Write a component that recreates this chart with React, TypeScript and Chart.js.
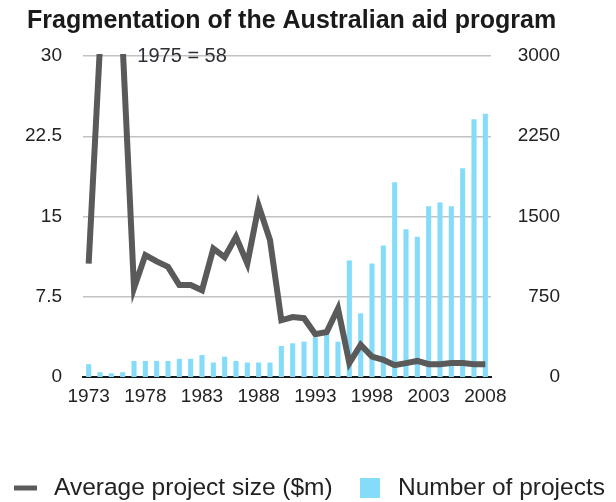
import React, { useEffect, useRef } from 'react';
import { Chart, registerables } from 'chart.js';

Chart.register(...registerables);

const years = [
  '1973', '1974', '1975', '1976', '1977', '1978', '1979', '1980', '1981', '1982',
  '1983', '1984', '1985', '1986', '1987', '1988', '1989', '1990', '1991', '1992',
  '1993', '1994', '1995', '1996', '1997', '1998', '1999', '2000', '2001', '2002',
  '2003', '2004', '2005', '2006', '2007', '2008',
];

const shownYearLabels = ['1973', '1978', '1983', '1988', '1993', '1998', '2003', '2008'];

const avgProjectSize = [
  10.6, 31, 58, 31, 8.3, 11.4, 10.8, 10.3, 8.6, 8.6,
  8.1, 12.0, 11.2, 13.1, 10.6, 16.0, 12.8, 5.3, 5.6, 5.5,
  4.0, 4.2, 6.4, 1.3, 3.0, 1.9, 1.6, 1.1, 1.3, 1.5,
  1.2, 1.2, 1.3, 1.3, 1.2, 1.2,
];

const numberOfProjects = [
  120, 45, 35, 45, 150, 150, 150, 150, 170, 170,
  205, 135, 190, 150, 135, 135, 135, 290, 315, 330,
  370, 400, 330, 1090, 595, 1060, 1230, 1820, 1380, 1310,
  1595, 1630, 1595, 1950, 2410, 2460,
];

const leftTicks = [0, 7.5, 15, 22.5, 30];
const rightTicks = [0, 750, 1500, 2250, 3000];

const titleText = 'Fragmentation of the Australian aid program';
const annotationText = '1975 = 58';
const lineLabel = 'Average project size ($m)';
const barLabel = 'Number of projects';

const FONT = '"Liberation Sans", Arial, Helvetica, sans-serif';
const LINE_COLOR = '#5a5a5a';
const BAR_COLOR = '#84dcfa';
const TEXT_COLOR = '#222222';

const decorPlugin = {
  id: 'decor',
  afterDraw(chart: any) {
    const ctx = chart.ctx;
    const x = chart.scales.x;
    const y = chart.scales.y;
    ctx.save();
    // title
    ctx.fillStyle = '#1a1a1a';
    ctx.font = `bold 25px ${FONT}`;
    ctx.textAlign = 'left';
    ctx.textBaseline = 'middle';
    ctx.fillText(titleText, 27, 21);
    // annotation
    ctx.fillStyle = '#2e2e36';
    ctx.font = `20px ${FONT}`;
    ctx.fillText(annotationText, x.getPixelForValue(2) + 26, y.getPixelForValue(30));
    // legend
    const ly = 488;
    ctx.strokeStyle = LINE_COLOR;
    ctx.lineWidth = 5;
    ctx.beginPath();
    ctx.moveTo(14, ly);
    ctx.lineTo(37, ly);
    ctx.stroke();
    ctx.fillStyle = TEXT_COLOR;
    ctx.font = `24.5px ${FONT}`;
    ctx.fillText(lineLabel, 54, ly);
    ctx.fillStyle = BAR_COLOR;
    ctx.fillRect(360, ly - 10, 20, 20);
    ctx.fillStyle = TEXT_COLOR;
    ctx.fillText(barLabel, 398, ly);
    ctx.restore();
  },
};

export default function App() {
  const ref = useRef<HTMLCanvasElement | null>(null);

  useEffect(() => {
    if (!ref.current) return;
    const tickFont = { family: FONT, size: 19 };
    const chart = new Chart(ref.current, {
      type: 'bar',
      data: {
        labels: years,
        datasets: [
          {
            type: 'line',
            label: lineLabel,
            data: avgProjectSize,
            yAxisID: 'y',
            borderColor: LINE_COLOR,
            backgroundColor: LINE_COLOR,
            borderWidth: 6,
            pointRadius: 0,
            tension: 0,
            borderJoinStyle: 'miter',
            clip: { left: 5, right: 5, top: 2, bottom: 5 },
            order: 0,
          } as any,
          {
            type: 'bar',
            label: barLabel,
            data: numberOfProjects,
            yAxisID: 'y1',
            backgroundColor: BAR_COLOR,
            borderWidth: 0,
            barPercentage: 0.45,
            categoryPercentage: 1,
            order: 1,
          },
        ],
      },
      options: {
        responsive: false,
        animation: false,
        layout: { padding: { left: 0, right: 56, top: 56, bottom: 90 } },
        plugins: {
          legend: { display: false },
          title: { display: false },
          tooltip: { enabled: false },
        },
        scales: {
          x: {
            offset: true,
            grid: { display: false, drawTicks: false },
            border: { display: true, color: '#1a1a1a', width: 2 },
            ticks: {
              autoSkip: false,
              maxRotation: 0,
              font: tickFont,
              color: TEXT_COLOR,
              padding: 8,
              callback: (_v: any, i: number) =>
                shownYearLabels.includes(years[i]) ? years[i] : '',
            },
            afterFit: (s: any) => {
              s.height = 35;
            },
          },
          y: {
            position: 'left',
            min: 0,
            max: 30,
            afterBuildTicks: (s: any) => {
              s.ticks = leftTicks.map((v) => ({ value: v }));
            },
            ticks: {
              font: tickFont,
              color: TEXT_COLOR,
              padding: 21,
              callback: (v: any) => String(v),
            },
            grid: { color: '#c2c2c2', lineWidth: 1.5, drawTicks: false },
            border: { display: false },
            afterFit: (s: any) => {
              s.width = 83;
            },
          },
          y1: {
            position: 'right',
            min: 0,
            max: 3000,
            afterBuildTicks: (s: any) => {
              s.ticks = rightTicks.map((v) => ({ value: v }));
            },
            ticks: {
              font: tickFont,
              color: TEXT_COLOR,
              crossAlign: 'far',
              callback: (v: any) => String(v),
            },
            grid: { display: false, drawTicks: false },
            border: { display: false },
            afterFit: (s: any) => {
              s.width = 69;
            },
          },
        },
      },
      plugins: [decorPlugin],
    });
    return () => chart.destroy();
  }, []);

  return (
    <div style={{ position: 'absolute', left: 0, top: 0, width: 616, height: 502, background: '#fff' }}>
      <canvas ref={ref} width={616} height={502} style={{ display: 'block' }} />
    </div>
  );
}
